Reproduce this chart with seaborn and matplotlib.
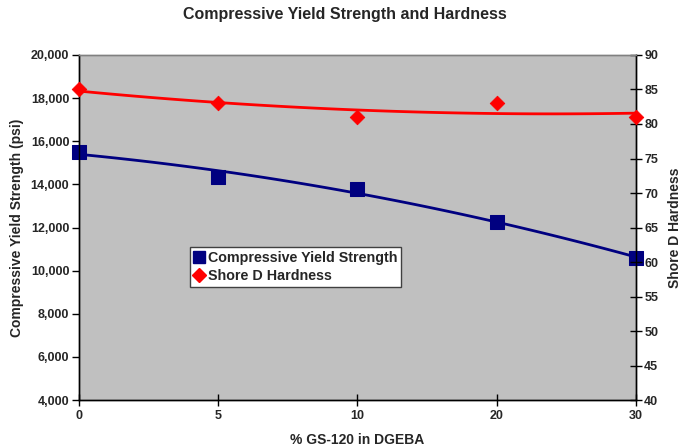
import numpy as np
import pandas as pd
import matplotlib
matplotlib.use("Agg")
import matplotlib.pyplot as plt
import seaborn as sns
from matplotlib.lines import Line2D

categories = ["0", "5", "10", "20", "30"]
strength = [15500, 14350, 13800, 12250, 10600]
hardness = [85, 83, 81, 83, 81]

sns.set_style("white")
plt.rcParams['font.family'] = ['Liberation Sans', 'DejaVu Sans']
plt.rcParams['font.weight'] = 'bold'

df = pd.DataFrame({"idx": np.arange(len(categories)), "cat": categories,
                   "strength": strength, "hardness": hardness})

fig = plt.figure(figsize=(6.9, 4.47), dpi=100)
ax = fig.add_axes([0.1145, 0.105, 0.807, 0.772])
ax.set_facecolor("#C0C0C0")
ax2 = ax.twinx()

navy = "#000080"
red = "#FF0000"

sns.regplot(data=df, x="idx", y="strength", order=2, ci=None, scatter=False,
            ax=ax, line_kws=dict(color=navy, lw=2))
sns.scatterplot(data=df, x="idx", y="strength", ax=ax, marker="s", s=90,
                color=navy, edgecolor=navy, zorder=5, clip_on=False)
sns.regplot(data=df, x="idx", y="hardness", order=2, ci=None, scatter=False,
            ax=ax2, line_kws=dict(color=red, lw=2))
sns.scatterplot(data=df, x="idx", y="hardness", ax=ax2, marker="D", s=55,
                color=red, edgecolor=red, zorder=5, clip_on=False)

ax.set_xlim(0, 4)
ax.set_ylim(4000, 20000)
ax2.set_ylim(40, 90)
ax.set_xticks(df["idx"])
ax.set_xticklabels(categories)
ax.set_yticks(np.arange(4000, 20001, 2000))
ax.set_yticklabels([f"{v:,}" for v in range(4000, 20001, 2000)])
ax2.set_yticks(np.arange(40, 91, 5))

for t in ax.get_xticklabels() + ax.get_yticklabels() + ax2.get_yticklabels():
    t.set_fontsize(9)
    t.set_fontweight('bold')

ax.tick_params(axis='y', direction='out', length=5, width=1, color='black', pad=2, left=True)
ax.tick_params(axis='x', direction='inout', length=8, width=1, color='black', pad=3, bottom=True)
ax2.tick_params(axis='y', direction='inout', length=8, width=1, color='black', pad=2, right=True)

for a in (ax, ax2):
    for s in a.spines.values():
        s.set_color('black')
        s.set_linewidth(1)
    a.spines['top'].set_color('#808080')

ax.set_xlabel("% GS-120 in DGEBA", fontsize=10, fontweight='bold', labelpad=8)
ax.set_ylabel("Compressive Yield Strength (psi)", fontsize=10, fontweight='bold', labelpad=5)
ax2.set_ylabel("Shore D Hardness", fontsize=10, fontweight='bold', labelpad=7)
fig.suptitle("Compressive Yield Strength and Hardness", x=0.5, y=0.985,
             fontsize=11.5, fontweight='bold')

handles = [Line2D([], [], marker='s', color=navy, ls='none', markersize=8),
           Line2D([], [], marker='D', color=red, ls='none', markersize=7)]
leg = ax2.legend(handles, ["Compressive Yield Strength", "Shore D Hardness"],
                 loc='upper left', bbox_to_anchor=(0.199, 0.445), frameon=True,
                 fancybox=False, framealpha=1, edgecolor='#404040',
                 handlelength=0.7, handletextpad=0.25, borderpad=0.3,
                 labelspacing=0.3, borderaxespad=0,
                 prop=dict(size=10.3, weight='bold'))
leg.get_frame().set_linewidth(1)

fig.savefig("out.png", dpi=100, facecolor='white')
